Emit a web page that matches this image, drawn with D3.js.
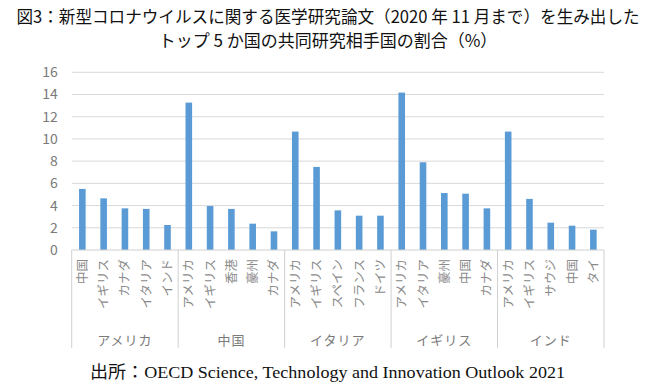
<!DOCTYPE html>
<html><head><meta charset="utf-8">
<script src="https://cdn.jsdelivr.net/npm/d3@7/dist/d3.min.js"></script>
<style>body{margin:0;background:#fff}svg{display:block}</style>
</head><body>
<svg id="c" width="656" height="389"></svg>
<script>
const groups = ["アメリカ","中国","イタリア","イギリス","インド"];
const partners = [
  ["中国","イギリス","カナダ","イタリア","インド"],
  ["アメリカ","イギリス","香港","豪州","カナダ"],
  ["アメリカ","イギリス","スペイン","フランス","ドイツ"],
  ["アメリカ","イタリア","豪州","中国","カナダ"],
  ["アメリカ","イギリス","サウジ","中国","タイ"]
];
const shares = [
  [5.5, 4.65, 3.75, 3.7, 2.25],
  [13.27, 3.96, 3.7, 2.37, 1.68],
  [10.66, 7.48, 3.57, 3.09, 3.09],
  [14.17, 7.9, 5.13, 5.07, 3.75],
  [10.66, 4.6, 2.46, 2.19, 1.83]
];
const yTicks = [0,2,4,6,8,10,12,14,16];
const titleLines = ["図3：新型コロナウイルスに関する医学研究論文（2020 年 11 月まで）を生み出した","トップ 5 か国の共同研究相手国の割合（%）"];
const sourceText = "出所：OECD Science, Technology and Innovation Outlook 2021";

const rows = [];
groups.forEach((g,gi)=>partners[gi].forEach((p,pi)=>rows.push({key:g+"|"+p,group:g,gi,partner:p,value:shares[gi][pi]})));

const svg = d3.select("#c");
const L = 71.7, R = 604, T = 72.3, B = 250;
const x = d3.scaleBand().domain(rows.map(d=>d.key)).range([L,R]).paddingInner(0.69).paddingOuter(0.345);
const y = d3.scaleLinear().domain([0,16]).range([B,T]);

// gridlines
svg.append("g").selectAll("line").data(yTicks.filter(t=>t>0)).join("line")
  .attr("x1",L).attr("x2",R).attr("y1",d=>y(d)).attr("y2",d=>y(d))
  .attr("stroke","#d9d9d9").attr("stroke-width",1);

// y axis labels
const ya = svg.append("g").attr("transform",`translate(${L},0)`)
  .call(d3.axisLeft(y).tickValues(yTicks).tickSize(0).tickPadding(14));
ya.select(".domain").remove();
ya.selectAll("text").attr("font-family","'Noto Sans CJK JP', 'Noto Sans', sans-serif")
  .attr("font-size",14).attr("fill","#7a7a7a");

// bars
svg.append("g").selectAll("rect").data(rows).join("rect")
  .attr("x",d=>x(d.key)).attr("width",x.bandwidth())
  .attr("y",d=>y(d.value)).attr("height",d=>y(0)-y(d.value))
  .attr("fill","#5b9bd5");

// x axis line
svg.append("line").attr("x1",L).attr("x2",R).attr("y1",B).attr("y2",B).attr("stroke","#d0d0d0");

// group separators
const gx = d3.scaleBand().domain(groups).range([L,R]);
const seps = groups.map(g=>gx(g)).concat([R]);
svg.append("g").selectAll("line").data(seps).join("line")
  .attr("x1",d=>d).attr("x2",d=>d).attr("y1",B).attr("y2",348)
  .attr("stroke","#d0d0d0");

// category labels
svg.append("g").selectAll("text").data(rows).join("text")
  .attr("transform",d=>`translate(${x(d.key)+x.bandwidth()/2+4.5},${B+9}) rotate(-90)`)
  .attr("text-anchor","end")
  .attr("font-family","'Noto Sans CJK JP', sans-serif").attr("font-size",12.5)
  .attr("fill","#8a8a8a").text(d=>d.partner);

// group labels
svg.append("g").selectAll("text").data(groups).join("text")
  .attr("x",d=>gx(d)+gx.bandwidth()/2).attr("y",345)
  .attr("text-anchor","middle")
  .attr("font-family","'Noto Sans CJK JP', sans-serif").attr("font-size",13)
  .attr("fill","#7a7a7a").attr("letter-spacing",1).text(d=>d);

// title
const tl = svg.append("g");
tl.append("text").attr("x",328).attr("y",23).attr("text-anchor","middle")
  .attr("font-family","'Noto Sans CJK JP', sans-serif").attr("font-size",16.6).attr("fill","#111").text(titleLines[0]);
tl.append("text").attr("x",328).attr("y",47).attr("text-anchor","middle")
  .attr("font-family","'Noto Sans CJK JP', sans-serif").attr("font-size",17).attr("fill","#111").text(titleLines[1]);

// source
svg.append("text").attr("x",90).attr("y",378).attr("textLength",475).attr("lengthAdjust","spacingAndGlyphs")
  .attr("font-family","'Liberation Serif', 'Noto Sans CJK JP', serif").attr("font-size",17).attr("fill","#111").text(sourceText);
</script>
</body></html>
